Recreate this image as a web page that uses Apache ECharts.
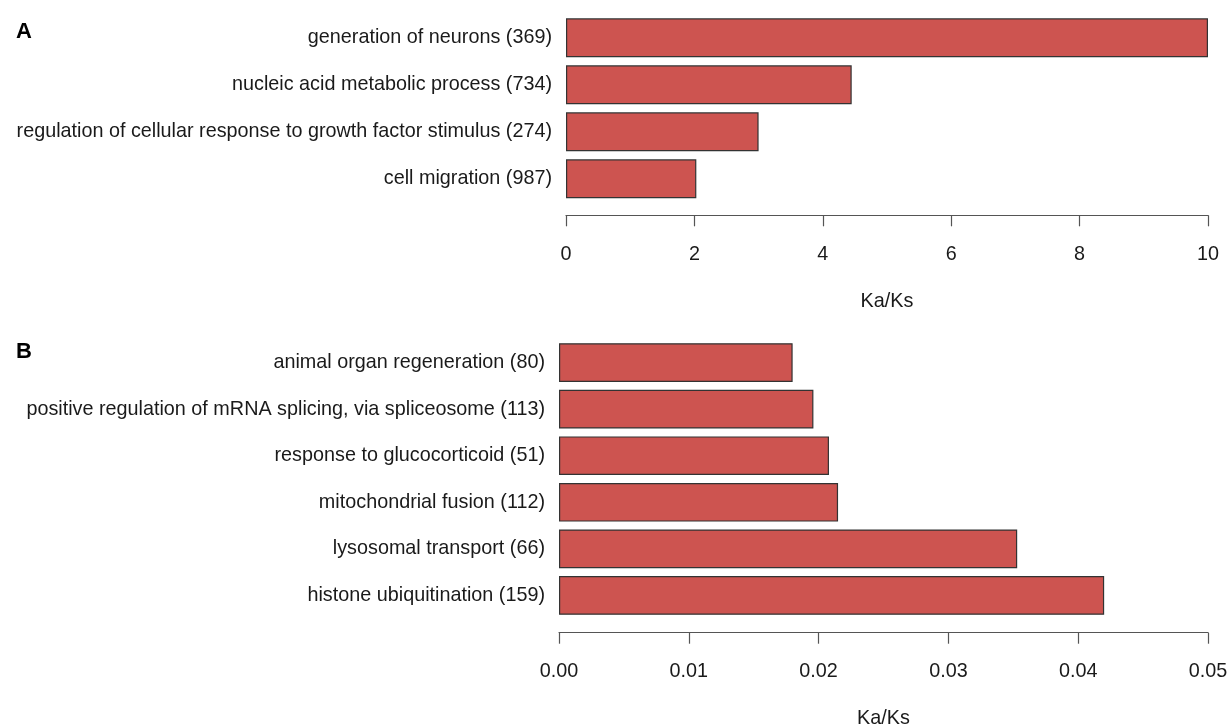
<!DOCTYPE html>
<html>
<head>
<meta charset="utf-8">
<script src="https://cdn.jsdelivr.net/npm/echarts@6/dist/echarts.min.js"></script>
<style>
  html, body { margin: 0; padding: 0; background: #ffffff; }
  #chart { width: 1228px; height: 726px; }
</style>
</head>
<body>
<div id="chart"></div>
<script>
// Panel A: GO terms with the highest Ka/Ks
const termsA = [
  'generation of neurons (369)',
  'nucleic acid metabolic process (734)',
  'regulation of cellular response to growth factor stimulus (274)',
  'cell migration (987)'
];
const valuesA = [10.0, 4.45, 3.0, 2.03];
const ticksA = { min: 0, max: 10, interval: 2 };

// Panel B: GO terms with the lowest Ka/Ks
const termsB = [
  'animal organ regeneration (80)',
  'positive regulation of mRNA splicing, via spliceosome (113)',
  'response to glucocorticoid (51)',
  'mitochondrial fusion (112)',
  'lysosomal transport (66)',
  'histone ubiquitination (159)'
];
const valuesB = [0.0180, 0.0196, 0.0208, 0.0215, 0.0353, 0.0420];
const ticksB = { min: 0, max: 0.05, interval: 0.01 };

const axisName = 'Ka/Ks';

const FONT = '"Liberation Sans", Arial, Helvetica, sans-serif';
const FS = 19.8;
const TEXT = '#1a1a1a';
const BAR = '#CD5450';
const EDGE = '#333333';

function valueAxis(gridIndex, t, offset, fmt) {
  return {
    type: 'value', gridIndex: gridIndex, position: 'bottom',
    min: t.min, max: t.max, interval: t.interval, offset: offset,
    splitLine: { show: false },
    axisLine: { show: true, lineStyle: { color: '#555', width: 1.2 } },
    axisTick: { show: true, length: 11, lineStyle: { color: '#555', width: 1.2 } },
    axisLabel: { color: TEXT, fontFamily: FONT, fontSize: FS, margin: 29, formatter: fmt },
    name: axisName, nameLocation: 'middle', nameGap: 76,
    nameTextStyle: { color: TEXT, fontFamily: FONT, fontSize: FS }
  };
}

function categoryAxis(gridIndex, terms) {
  return {
    type: 'category', gridIndex: gridIndex, data: terms, inverse: true,
    axisLine: { show: false }, axisTick: { show: false },
    axisLabel: { color: TEXT, fontFamily: FONT, fontSize: FS, margin: 14 }
  };
}

function barSeries(idx, values) {
  return {
    type: 'bar', xAxisIndex: idx, yAxisIndex: idx, data: values,
    barCategoryGap: '17%', silent: true,
    itemStyle: { color: BAR, borderColor: EDGE, borderWidth: 1.2 }
  };
}

const chart = echarts.init(document.getElementById('chart'), null, { renderer: 'canvas' });
chart.setOption({
  animation: false,
  backgroundColor: '#ffffff',
  graphic: [
    { type: 'text', left: 16, top: 21, style: { text: 'A', font: 'bold 22px ' + FONT, fill: '#000' } },
    { type: 'text', left: 16, top: 341, style: { text: 'B', font: 'bold 22px ' + FONT, fill: '#000' } }
  ],
  grid: [
    { left: 566, right: 20, top: 14.3, height: 188, outerBoundsMode: 'none', containLabel: false },
    { left: 559, right: 20, top: 339.3, height: 279.4, outerBoundsMode: 'none', containLabel: false }
  ],
  xAxis: [
    valueAxis(0, ticksA, 13, function (v) { return String(v); }),
    valueAxis(1, ticksB, 14, function (v) { return v.toFixed(2); })
  ],
  yAxis: [categoryAxis(0, termsA), categoryAxis(1, termsB)],
  series: [barSeries(0, valuesA), barSeries(1, valuesB)]
});
</script>
</body>
</html>
